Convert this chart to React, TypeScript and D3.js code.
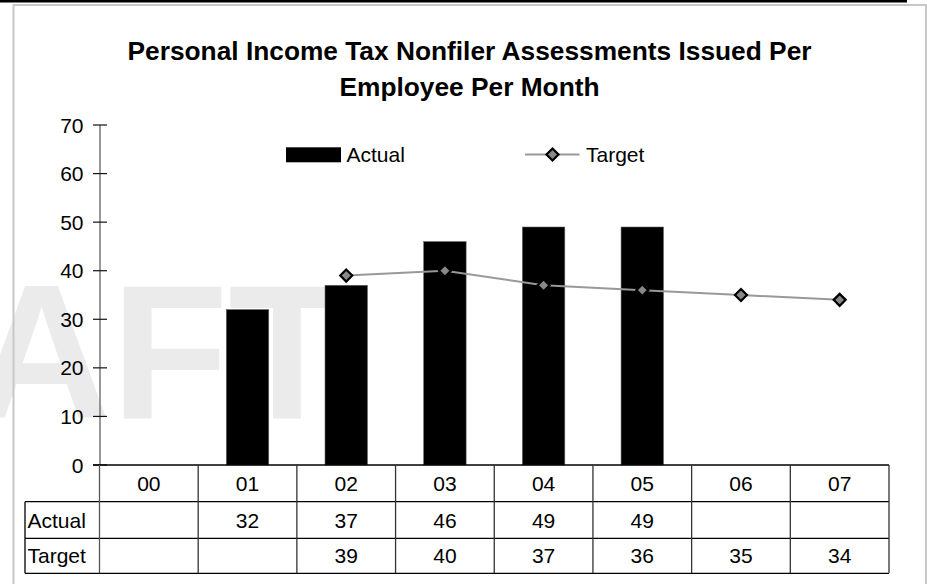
import React from "react";
import * as d3 from "d3";

const categories = ["00", "01", "02", "03", "04", "05", "06", "07"];
const actual: (number | null)[] = [null, 32, 37, 46, 49, 49, null, null];
const target: (number | null)[] = [null, null, 39, 40, 37, 36, 35, 34];
const yTicks = [0, 10, 20, 30, 40, 50, 60, 70];
const titleLines = ["Personal Income Tax Nonfiler Assessments Issued Per", "Employee Per Month"];
const seriesNames = ["Actual", "Target"];

const W = 927;
const H = 584;
const FONT = "'Liberation Sans', Arial, Helvetica, sans-serif";
const FS = 21;

export default function App() {
  const x = d3.scaleBand<string>().domain(categories).range([99.5, 889]).padding(0);
  const y = d3.scaleLinear().domain([0, 70]).range([465, 125]);
  const bw = x.bandwidth();
  const barW = bw * 0.43;
  const cx = (c: string) => (x(c) as number) + bw / 2;

  const targetPts = categories
    .map((c, i) => ({ c, v: target[i] }))
    .filter((d) => d.v !== null) as { c: string; v: number }[];
  const line = d3
    .line<{ c: string; v: number }>()
    .x((d) => cx(d.c))
    .y((d) => y(d.v));

  const rowTops = [465, 501.7, 538.3, 573.3];
  const tableLeft = 25;
  const tableRight = 889;

  const diamond = (px: number, py: number, r: number) =>
    `M${px},${py - r}L${px + r},${py}L${px},${py + r}L${px - r},${py}Z`;

  return (
    <svg
      width={W}
      height={H}
      style={{ position: "absolute", left: 0, top: 0, display: "block" }}
      fontFamily={FONT}
    >
      <rect x={0} y={0} width={W} height={H} fill="#fff" />
      {/* watermark */}
      <text x={-305} y={418} fontSize={192} fontWeight="bold" fill="#ebebeb">
        DRAFT
      </text>
      {/* top black rule */}
      <rect x={0} y={0} width={907} height={2.5} fill="#000" />
      {/* chart border */}
      <rect x={13.5} y={5} width={912.5} height={620} fill="none" stroke="#c8c8c8" strokeWidth={2} />

      {/* title */}
      {titleLines.map((t, i) => (
        <text
          key={i}
          x={469.5}
          y={60 + i * 35.5}
          textAnchor="middle"
          fontSize={26.3}
          fontWeight="bold"
          fill="#000"
        >
          {t}
        </text>
      ))}

      {/* legend */}
      <rect x={286} y={147.3} width={55} height={15} fill="#000" />
      <text x={346.5} y={162.3} fontSize={FS} fill="#000">
        {seriesNames[0]}
      </text>
      <line x1={525} y1={154.5} x2={579.5} y2={154.5} stroke="#999" strokeWidth={2} />
      <path d={diamond(552.5, 154.5, 6)} fill="#888" stroke="#000" strokeWidth={2.2} />
      <text x={586} y={162.3} fontSize={FS} fill="#000">
        {seriesNames[1]}
      </text>

      {/* bars */}
      {categories.map((c, i) =>
        actual[i] === null ? null : (
          <rect
            key={c}
            x={cx(c) - barW / 2}
            y={y(actual[i] as number)}
            width={barW}
            height={y(0) - y(actual[i] as number)}
            fill="#000"
            stroke="#666"
            strokeWidth={0.6}
          />
        )
      )}

      {/* target line */}
      <path d={line(targetPts) || ""} fill="none" stroke="#999" strokeWidth={2} />
      {targetPts.map((d) => (
        <path key={d.c} d={diamond(cx(d.c), y(d.v), 6)} fill="#888" stroke="#000" strokeWidth={2.2} />
      ))}

      {/* y axis */}
      <line x1={100} y1={y(70)} x2={100} y2={y(0)} stroke="#777" strokeWidth={1.5} />
      {yTicks.map((t) => (
        <g key={t}>
          <line x1={93} y1={y(t)} x2={107} y2={y(t)} stroke="#111" strokeWidth={1.2} />
          <text x={83.5} y={y(t) + 7.5} textAnchor="end" fontSize={FS} fill="#000">
            {t}
          </text>
        </g>
      ))}

      {/* x axis */}
      <line x1={93} y1={465} x2={tableRight} y2={465} stroke="#000" strokeWidth={1.5} />

      {/* data table */}
      {rowTops.slice(1).map((ry, i) => (
        <line key={i} x1={tableLeft} y1={ry} x2={tableRight} y2={ry} stroke="#000" strokeWidth={1.3} />
      ))}
      <line x1={tableLeft} y1={rowTops[1]} x2={tableLeft} y2={rowTops[3]} stroke="#000" strokeWidth={1.3} />
      <line x1={99.5} y1={465} x2={99.5} y2={rowTops[3]} stroke="#555" strokeWidth={1.3} />
      {categories.map((c) => (
        <line
          key={c}
          x1={(x(c) as number) + bw}
          y1={465}
          x2={(x(c) as number) + bw}
          y2={rowTops[3]}
          stroke="#333"
          strokeWidth={1.3}
        />
      ))}
      {categories.map((c) => (
        <text key={c} x={cx(c)} y={490.5} textAnchor="middle" fontSize={FS} fill="#000">
          {c}
        </text>
      ))}
      {[actual, target].map((vals, r) => (
        <g key={r}>
          <text x={27.5} y={(rowTops[r + 1] + rowTops[r + 2]) / 2 + 7.5} fontSize={FS} fill="#000">
            {seriesNames[r]}
          </text>
          {categories.map((c, i) =>
            vals[i] === null ? null : (
              <text
                key={c}
                x={cx(c)}
                y={(rowTops[r + 1] + rowTops[r + 2]) / 2 + 7.5}
                textAnchor="middle"
                fontSize={FS}
                fill="#000"
              >
                {vals[i]}
              </text>
            )
          )}
        </g>
      ))}
    </svg>
  );
}
